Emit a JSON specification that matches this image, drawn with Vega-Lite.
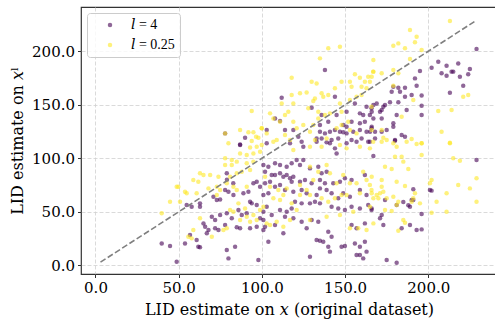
{
"$schema": "https://vega.github.io/schema/vega-lite/v6.json",
"width": 416, "height": 267,
"autosize": {"type": "none"},
"padding": {"left": 81, "top": 7, "right": 0, "bottom": 46},
"config": {
 "font": "DejaVu Serif",
 "view": {"stroke": "#333333", "strokeWidth": 1.2},
 "axis": {"domain": false, "grid": true, "gridColor": "#d0d0d0", "gridDash": [4, 2], "gridWidth": 0.8,
  "tickColor": "#333333", "tickSize": 3.5, "tickWidth": 1, "labelFont": "DejaVu Serif", "labelFontSize": 15,
  "labelColor": "#000000", "titleFont": "DejaVu Serif", "titleFontSize": 16, "titleFontWeight": "normal",
  "titleColor": "#000000", "labelPadding": 3}
},
"datasets": {
 "pts": [
{"l":"A","x":86.9,"y":112.4},{"l":"A","x":78.9,"y":86},{"l":"A","x":77.9,"y":70.4},{"l":"A","x":79.9,"y":68.8},{"l":"A","x":70.9,"y":64.1},{"l":"A","x":72.9,"y":61},{"l":"A","x":74.9,"y":61.6},{"l":"A","x":82.9,"y":65.7},{"l":"A","x":88.9,"y":67.3},{"l":"A","x":91.9,"y":68.8},{"l":"A","x":94.9,"y":76.6},{"l":"A","x":96.9,"y":78.2},{"l":"A","x":98.9,"y":73.5},{"l":"A","x":54.8,"y":56.4},{"l":"A","x":57.8,"y":54.8},{"l":"A","x":62.8,"y":57.9},{"l":"A","x":62.8,"y":54.8},{"l":"A","x":69.9,"y":45.5},{"l":"A","x":71.9,"y":42.3},{"l":"A","x":74.9,"y":47},{"l":"A","x":78.9,"y":48.6},{"l":"A","x":81.9,"y":43.9},{"l":"A","x":85.9,"y":51.7},{"l":"A","x":87.9,"y":47},{"l":"A","x":90.9,"y":48.6},{"l":"A","x":92.9,"y":59.5},{"l":"A","x":93.9,"y":57.9},{"l":"A","x":96.9,"y":56.4},{"l":"A","x":98.9,"y":43.9},{"l":"A","x":100.9,"y":42.3},{"l":"A","x":71.9,"y":34.6},{"l":"A","x":73.9,"y":33},{"l":"A","x":77.9,"y":37.7},{"l":"A","x":84.9,"y":35.5},{"l":"A","x":86.9,"y":34.6},{"l":"A","x":92.9,"y":34.6},{"l":"A","x":96.9,"y":36.1},{"l":"A","x":39.8,"y":20.5},{"l":"A","x":44.8,"y":18.1},{"l":"A","x":53.8,"y":20.5},{"l":"A","x":60.8,"y":23.6},{"l":"A","x":61.8,"y":17.4},{"l":"A","x":62.8,"y":16.8},{"l":"A","x":67.9,"y":33},{"l":"A","x":78.9,"y":14.3},{"l":"A","x":83.9,"y":17.4},{"l":"A","x":79.9,"y":6.5},{"l":"A","x":48.8,"y":3.4},{"l":"A","x":97.9,"y":4.9},{"l":"A","x":64.9,"y":39.2},{"l":"A","x":65.9,"y":36.1},{"l":"A","x":56.8,"y":28.3},{"l":"A","x":66.9,"y":29.9},{"l":"A","x":79,"y":80},{"l":"A","x":82.8,"y":76.6},
{"l":"A","x":102.9,"y":114},{"l":"A","x":116.9,"y":114},{"l":"A","x":124.9,"y":110.9},{"l":"A","x":132.9,"y":115.5},{"l":"A","x":140.9,"y":114},{"l":"A","x":143.9,"y":109.3},{"l":"A","x":144.9,"y":104.6},{"l":"A","x":150.9,"y":114},{"l":"A","x":156.9,"y":115.5},{"l":"A","x":164.9,"y":115.5},{"l":"A","x":100.9,"y":93.7},{"l":"A","x":103.9,"y":92.2},{"l":"A","x":107.9,"y":95.3},{"l":"A","x":110.9,"y":93.7},{"l":"A","x":114.9,"y":92.2},{"l":"A","x":117.9,"y":95.3},{"l":"A","x":120.9,"y":98.4},{"l":"A","x":122.9,"y":93.7},{"l":"A","x":124.9,"y":98.4},{"l":"A","x":128.9,"y":90.6},{"l":"A","x":133.9,"y":92.2},{"l":"A","x":135.9,"y":86},{"l":"A","x":138.9,"y":87.5},{"l":"A","x":101.9,"y":87.5},{"l":"A","x":105.9,"y":84.4},{"l":"A","x":107.9,"y":84.4},{"l":"A","x":110.9,"y":86},{"l":"A","x":112.9,"y":82.8},{"l":"A","x":114.9,"y":84.4},{"l":"A","x":116.9,"y":81.3},{"l":"A","x":117.9,"y":78.2},{"l":"A","x":118.9,"y":82.8},{"l":"A","x":122.9,"y":78.2},{"l":"A","x":125.9,"y":79.7},{"l":"A","x":129.9,"y":76.6},{"l":"A","x":134.9,"y":79.7},{"l":"A","x":137.9,"y":76.6},{"l":"A","x":142.9,"y":76.6},{"l":"A","x":146.9,"y":78.2},{"l":"A","x":149.9,"y":81.3},{"l":"A","x":153.9,"y":79.7},{"l":"A","x":100.9,"y":65.7},{"l":"A","x":103.9,"y":67.3},{"l":"A","x":101.9,"y":76.6},{"l":"A","x":104.9,"y":78.2},{"l":"A","x":107.9,"y":73.5},{"l":"A","x":110.9,"y":75.1},{"l":"A","x":113.9,"y":70.4},{"l":"A","x":118.9,"y":68.8},{"l":"A","x":123.9,"y":70.4},{"l":"A","x":126.9,"y":67.3},{"l":"A","x":132.9,"y":65.7},{"l":"A","x":134.9,"y":71.9},{"l":"A","x":138.9,"y":70.4},{"l":"A","x":141.9,"y":67.3},{"l":"A","x":145.9,"y":62.6},{"l":"A","x":148.9,"y":67.3},{"l":"A","x":152.9,"y":64.1},{"l":"A","x":158.9,"y":70.4},{"l":"A","x":161.9,"y":84.4},{"l":"A","x":162.9,"y":65.7},{"l":"A","x":102.9,"y":54.8},{"l":"A","x":100.9,"y":50.1},{"l":"A","x":105.9,"y":47},{"l":"A","x":110.9,"y":51.7},{"l":"A","x":114.9,"y":50.1},{"l":"A","x":117.9,"y":53.2},{"l":"A","x":119.9,"y":59.5},{"l":"A","x":123.9,"y":57.9},{"l":"A","x":128.9,"y":57.9},{"l":"A","x":131.9,"y":59.5},{"l":"A","x":134.9,"y":57.9},{"l":"A","x":141.9,"y":54.8},{"l":"A","x":145.9,"y":53.2},{"l":"A","x":149.9,"y":51.7},{"l":"A","x":153.9,"y":54.8},{"l":"A","x":158.9,"y":53.2},{"l":"A","x":163.9,"y":56.4},{"l":"A","x":165.9,"y":51.7},{"l":"A","x":100.9,"y":33},{"l":"A","x":101.9,"y":36.1},{"l":"A","x":107.9,"y":37.7},{"l":"A","x":113.9,"y":45.5},{"l":"A","x":118.9,"y":43.9},{"l":"A","x":123.9,"y":40.8},{"l":"A","x":126.9,"y":34.6},{"l":"A","x":129.9,"y":42.3},{"l":"A","x":133.9,"y":40.8},{"l":"A","x":139.9,"y":31.4},{"l":"A","x":141.9,"y":26.8},{"l":"A","x":132.9,"y":23.6},{"l":"A","x":134.9,"y":23},{"l":"A","x":136.9,"y":22.1},{"l":"A","x":139.9,"y":17.4},{"l":"A","x":147.9,"y":17.4},{"l":"A","x":149.9,"y":18.1},{"l":"A","x":155.9,"y":20.5},{"l":"A","x":158.9,"y":17.4},{"l":"A","x":161.9,"y":22.1},{"l":"A","x":162.9,"y":12.8},{"l":"A","x":158.9,"y":9.6},{"l":"A","x":156.9,"y":9.6},{"l":"A","x":160.9,"y":6.5},{"l":"A","x":128.9,"y":8.1},{"l":"A","x":112.9,"y":29.9},{"l":"A","x":103.9,"y":22.1},{"l":"A","x":140.9,"y":12.8},{"l":"A","x":153.9,"y":37.7},{"l":"A","x":156.9,"y":34.6},{"l":"A","x":161.9,"y":39.2},
{"l":"A","x":180,"y":116.5},{"l":"A","x":167,"y":102.1},{"l":"A","x":229,"y":98.4},{"l":"A","x":191,"y":71},{"l":"A","x":190,"y":61},{"l":"A","x":191,"y":61},{"l":"A","x":174,"y":61},{"l":"A","x":185,"y":59.2},{"l":"A","x":188,"y":56.1},{"l":"A","x":189,"y":54.8},{"l":"A","x":166,"y":53.2},{"l":"A","x":172,"y":47},{"l":"A","x":171,"y":43.9},{"l":"A","x":173,"y":37.7},{"l":"A","x":184,"y":34.6},{"l":"A","x":189,"y":37.7},{"l":"A","x":193,"y":33},{"l":"A","x":196,"y":33.6},{"l":"A","x":196,"y":48},{"l":"A","x":201,"y":70.4},{"l":"A","x":202,"y":69.8},{"l":"A","x":175,"y":5},{"l":"A","x":181,"y":2.5},{"l":"A","x":181,"y":56.4},
{"l":"A","x":77.9,"y":123.3},{"l":"A","x":89.9,"y":119.3},{"l":"A","x":86.9,"y":113},
{"l":"A","x":137.9,"y":182.5},{"l":"A","x":111.9,"y":156.6},{"l":"A","x":143.9,"y":157.6},{"l":"A","x":129.9,"y":147.3},{"l":"A","x":135.9,"y":140.5},{"l":"A","x":107.9,"y":137.3},{"l":"A","x":110.9,"y":134.8},{"l":"A","x":102.9,"y":126.4},{"l":"A","x":113.9,"y":126.4},{"l":"A","x":118.9,"y":126.4},{"l":"A","x":134.9,"y":131.1},{"l":"A","x":139.9,"y":134.2},{"l":"A","x":144.9,"y":140.5},{"l":"A","x":150.9,"y":143.6},{"l":"A","x":155.9,"y":151.3},{"l":"A","x":158.9,"y":142},{"l":"A","x":160.9,"y":140.5},{"l":"A","x":162.9,"y":148.2},{"l":"A","x":165.9,"y":146.7},{"l":"A","x":164.9,"y":140.5},{"l":"A","x":158.9,"y":132.7},{"l":"A","x":161.9,"y":134.2},{"l":"A","x":153.9,"y":134.2},{"l":"A","x":150.9,"y":129.6},{"l":"A","x":146.9,"y":124.9},{"l":"A","x":148.9,"y":124.3},{"l":"A","x":150.9,"y":123.3},{"l":"A","x":154.9,"y":124.9},{"l":"A","x":158.9,"y":126.4},{"l":"A","x":162.9,"y":124.9},{"l":"A","x":165.9,"y":128},{"l":"A","x":134.9,"y":124.9},{"l":"A","x":137.9,"y":123.3},{"l":"A","x":140.9,"y":124.9},{"l":"A","x":143.9,"y":126.4},{"l":"A","x":132.9,"y":118.6},{"l":"A","x":135.9,"y":118.6},{"l":"A","x":138.9,"y":114.9},{"l":"A","x":141.9,"y":117.1},{"l":"A","x":145.9,"y":118.6},{"l":"A","x":153.9,"y":117.1},{"l":"A","x":159.9,"y":118.6},{"l":"A","x":163.9,"y":115.5},{"l":"A","x":121.9,"y":120.2},{"l":"A","x":123.9,"y":115.5},{"l":"A","x":148.9,"y":131.1},
{"l":"A","x":229,"y":202.1},{"l":"A","x":195,"y":181.6},{"l":"A","x":202,"y":184.7},{"l":"A","x":206,"y":190.3},{"l":"A","x":211,"y":186.6},{"l":"A","x":214,"y":181},{"l":"A","x":215,"y":181},{"l":"A","x":218,"y":188.7},{"l":"A","x":211,"y":177.2},{"l":"A","x":208,"y":179.4},{"l":"A","x":219,"y":176.3},{"l":"A","x":224,"y":178.5},{"l":"A","x":225,"y":183.4},{"l":"A","x":221,"y":167.9},{"l":"A","x":213,"y":161.3},{"l":"A","x":193,"y":167.9},{"l":"A","x":192,"y":174.7},{"l":"A","x":186,"y":166},{"l":"A","x":182,"y":166},{"l":"A","x":179,"y":166.9},{"l":"A","x":186,"y":157.6},{"l":"A","x":183,"y":162.3},{"l":"A","x":178,"y":162.3},{"l":"A","x":190,"y":159.1},{"l":"A","x":196,"y":158.6},{"l":"A","x":177,"y":152.3},{"l":"A","x":182,"y":152.3},{"l":"A","x":174,"y":149.8},{"l":"A","x":173,"y":148.2},{"l":"A","x":172,"y":145.1},{"l":"A","x":169,"y":151.3},{"l":"A","x":167,"y":149.8},{"l":"A","x":166,"y":143.6},{"l":"A","x":167,"y":137.3},{"l":"A","x":171,"y":143.6},{"l":"A","x":181,"y":140.5},{"l":"A","x":187,"y":145.1},{"l":"A","x":196,"y":149.2},{"l":"A","x":196,"y":140.5},{"l":"A","x":172,"y":137.3},{"l":"A","x":179,"y":132.7},{"l":"A","x":179,"y":129.6},{"l":"A","x":166,"y":129.6},{"l":"A","x":168,"y":124.9},{"l":"A","x":172,"y":124.9},{"l":"A","x":175,"y":126.4},{"l":"A","x":165,"y":124.9},{"l":"A","x":184,"y":121.8},{"l":"A","x":186,"y":120.2},{"l":"A","x":180,"y":117.1},{"l":"A","x":168,"y":118.6},
{"l":"B","x":79.9,"y":114},{"l":"B","x":92.9,"y":110.2},{"l":"B","x":96.9,"y":110.9},{"l":"B","x":99.9,"y":112.4},{"l":"B","x":86.9,"y":104.6},{"l":"B","x":90.9,"y":103.1},{"l":"B","x":94.9,"y":104.6},{"l":"B","x":98.9,"y":106.2},{"l":"B","x":77.9,"y":100},{"l":"B","x":81.9,"y":98.4},{"l":"B","x":84.9,"y":96.9},{"l":"B","x":90.9,"y":95.3},{"l":"B","x":94.9,"y":96.9},{"l":"B","x":81.9,"y":93.7},{"l":"B","x":77.9,"y":93.7},{"l":"B","x":62.8,"y":86},{"l":"B","x":64.9,"y":84.4},{"l":"B","x":68.9,"y":84.4},{"l":"B","x":73.9,"y":82.8},{"l":"B","x":58.8,"y":79.7},{"l":"B","x":61.8,"y":78.2},{"l":"B","x":80.9,"y":82.8},{"l":"B","x":84.9,"y":86},{"l":"B","x":87.9,"y":87.5},{"l":"B","x":92.9,"y":89.1},{"l":"B","x":49.8,"y":73.5},{"l":"B","x":54.8,"y":67.3},{"l":"B","x":60.8,"y":67.3},{"l":"B","x":67.9,"y":71.9},{"l":"B","x":72.9,"y":73.5},{"l":"B","x":78.9,"y":76.6},{"l":"B","x":82.9,"y":73.5},{"l":"B","x":84.9,"y":70.4},{"l":"B","x":90.9,"y":73.5},{"l":"B","x":44.8,"y":59.5},{"l":"B","x":39.8,"y":48.6},{"l":"B","x":62.8,"y":43.9},{"l":"B","x":58.8,"y":33},{"l":"B","x":55.8,"y":26.8},{"l":"B","x":57.8,"y":25.2},{"l":"B","x":69.9,"y":26.8},{"l":"B","x":76.9,"y":33},{"l":"B","x":78.9,"y":34.6},{"l":"B","x":80.9,"y":51.7},{"l":"B","x":82.9,"y":50.1},{"l":"B","x":85.9,"y":57.9},{"l":"B","x":89.9,"y":53.2},{"l":"B","x":90.9,"y":45.5},{"l":"B","x":92.9,"y":40.8},{"l":"B","x":94.9,"y":47},{"l":"B","x":96.9,"y":42.3},{"l":"B","x":98.9,"y":51.7},{"l":"B","x":100.9,"y":54.8},{"l":"B","x":86.9,"y":42.3},{"l":"B","x":74.9,"y":70.4},{"l":"B","x":72.9,"y":65.7},{"l":"B","x":50.8,"y":59.4},{"l":"B","x":53.8,"y":68.8},{"l":"B","x":48.8,"y":73.5},
{"l":"B","x":106.9,"y":115.5},{"l":"B","x":118.9,"y":107.8},{"l":"B","x":128.9,"y":110.9},{"l":"B","x":135.9,"y":110.9},{"l":"B","x":146.9,"y":112.4},{"l":"B","x":150.9,"y":109.3},{"l":"B","x":158.9,"y":110.9},{"l":"B","x":164.9,"y":109.3},{"l":"B","x":166.9,"y":115.5},{"l":"B","x":101.9,"y":82.8},{"l":"B","x":104.9,"y":73.5},{"l":"B","x":109.9,"y":70.4},{"l":"B","x":112.9,"y":65.7},{"l":"B","x":106.9,"y":62.6},{"l":"B","x":110.9,"y":61},{"l":"B","x":117.9,"y":57.9},{"l":"B","x":114.9,"y":71.9},{"l":"B","x":122.9,"y":75.1},{"l":"B","x":128.9,"y":92.2},{"l":"B","x":130.9,"y":79.7},{"l":"B","x":133.9,"y":87.5},{"l":"B","x":138.9,"y":93.7},{"l":"B","x":140.9,"y":86},{"l":"B","x":144.9,"y":76.6},{"l":"B","x":148.9,"y":84.4},{"l":"B","x":152.9,"y":76.6},{"l":"B","x":156.9,"y":76.6},{"l":"B","x":158.9,"y":67.3},{"l":"B","x":160.9,"y":87.5},{"l":"B","x":162.9,"y":79.7},{"l":"B","x":164.9,"y":75.1},{"l":"B","x":165.9,"y":70.4},{"l":"B","x":147.9,"y":65.7},{"l":"B","x":150.9,"y":65.7},{"l":"B","x":143.9,"y":62.6},{"l":"B","x":139.9,"y":59.5},{"l":"B","x":135.9,"y":62.6},{"l":"B","x":128.9,"y":65.7},{"l":"B","x":122.9,"y":65.7},{"l":"B","x":126.9,"y":70.4},{"l":"B","x":120.9,"y":51.7},{"l":"B","x":116.9,"y":42.3},{"l":"B","x":108.9,"y":40.8},{"l":"B","x":102.9,"y":39.2},{"l":"B","x":104.9,"y":37.7},{"l":"B","x":112.9,"y":36.1},{"l":"B","x":128.9,"y":42.3},{"l":"B","x":138.9,"y":45.5},{"l":"B","x":146.9,"y":47},{"l":"B","x":152.9,"y":34.6},{"l":"B","x":157.9,"y":34.6},{"l":"B","x":162.9,"y":33},{"l":"B","x":164.9,"y":54.8},{"l":"B","x":154.9,"y":50.1},
{"l":"B","x":172,"y":115.5},{"l":"B","x":181,"y":110.9},{"l":"B","x":187,"y":115.5},{"l":"B","x":193,"y":113.4},{"l":"B","x":196,"y":114},{"l":"B","x":213,"y":114},{"l":"B","x":196,"y":103.1},{"l":"B","x":180,"y":101.5},{"l":"B","x":184,"y":101.5},{"l":"B","x":185,"y":96.9},{"l":"B","x":215,"y":100},{"l":"B","x":219,"y":97.8},{"l":"B","x":174,"y":92.2},{"l":"B","x":178,"y":90},{"l":"B","x":188,"y":90},{"l":"B","x":166,"y":82.8},{"l":"B","x":172,"y":79.7},{"l":"B","x":181,"y":78.2},{"l":"B","x":186,"y":74.1},{"l":"B","x":172,"y":73.5},{"l":"B","x":202,"y":79.7},{"l":"B","x":201,"y":76.6},{"l":"B","x":218,"y":75.1},{"l":"B","x":225,"y":71.9},{"l":"B","x":229,"y":81.3},{"l":"B","x":166,"y":67.3},{"l":"B","x":169,"y":65.7},{"l":"B","x":171,"y":67.3},{"l":"B","x":173,"y":68.8},{"l":"B","x":175,"y":62.6},{"l":"B","x":179,"y":64.1},{"l":"B","x":182,"y":59.5},{"l":"B","x":167,"y":62.6},{"l":"B","x":170,"y":62.6},{"l":"B","x":192,"y":67.3},{"l":"B","x":191,"y":62.6},{"l":"B","x":190,"y":59.5},{"l":"B","x":195,"y":57.9},{"l":"B","x":205,"y":59.5},{"l":"B","x":211,"y":67.3},{"l":"B","x":229,"y":59.5},{"l":"B","x":174,"y":51.7},{"l":"B","x":178,"y":50.8},{"l":"B","x":185,"y":42.3},{"l":"B","x":186,"y":39.8},{"l":"B","x":182,"y":32.4},{"l":"B","x":167,"y":39.2},{"l":"B","x":202,"y":49.2},{"l":"B","x":211,"y":50.1},{"l":"B","x":181,"y":56.4},
{"l":"B","x":93.9,"y":144.2},{"l":"B","x":86.9,"y":126.4},{"l":"B","x":91.9,"y":124.3},{"l":"B","x":94.9,"y":124.3},{"l":"B","x":96.5,"y":120.2},{"l":"B","x":97.9,"y":119.3},{"l":"B","x":93.9,"y":116.2},{"l":"B","x":99.9,"y":128},{"l":"B","x":77.9,"y":123.3},
{"l":"B","x":139.9,"y":202.8},{"l":"B","x":146.9,"y":204.3},{"l":"B","x":134.9,"y":193.4},{"l":"B","x":117.9,"y":175.3},{"l":"B","x":129.9,"y":171.6},{"l":"B","x":132.9,"y":170},{"l":"B","x":147.9,"y":171.6},{"l":"B","x":152.9,"y":171.6},{"l":"B","x":155.9,"y":178.5},{"l":"B","x":158.9,"y":175.3},{"l":"B","x":163.9,"y":176.3},{"l":"B","x":166.9,"y":181},{"l":"B","x":161.9,"y":171.6},{"l":"B","x":164.9,"y":171.6},{"l":"B","x":153.9,"y":166.9},{"l":"B","x":159.9,"y":166.9},{"l":"B","x":162.9,"y":165.4},{"l":"B","x":143.9,"y":165.4},{"l":"B","x":117.9,"y":159.1},{"l":"B","x":122.9,"y":160.7},{"l":"B","x":126.9,"y":161.6},{"l":"B","x":135.9,"y":160.7},{"l":"B","x":136.9,"y":157.6},{"l":"B","x":139.9,"y":159.1},{"l":"B","x":131.9,"y":156},{"l":"B","x":130.9,"y":153.5},{"l":"B","x":111.9,"y":151.3},{"l":"B","x":118.9,"y":151.3},{"l":"B","x":127.9,"y":146.7},{"l":"B","x":133.9,"y":143.6},{"l":"B","x":137.9,"y":140.5},{"l":"B","x":140.9,"y":142},{"l":"B","x":146.9,"y":151.3},{"l":"B","x":152.9,"y":154.5},{"l":"B","x":156.9,"y":157.6},{"l":"B","x":159.9,"y":159.1},{"l":"B","x":104.9,"y":142},{"l":"B","x":113.9,"y":140.5},{"l":"B","x":115.9,"y":143.6},{"l":"B","x":110.9,"y":134.2},{"l":"B","x":106.9,"y":137.3},{"l":"B","x":99.9,"y":128},{"l":"B","x":102.9,"y":123.3},{"l":"B","x":118.9,"y":134.2},{"l":"B","x":120.9,"y":128},{"l":"B","x":124.9,"y":131.1},{"l":"B","x":130.9,"y":131.1},{"l":"B","x":128.9,"y":124.9},{"l":"B","x":133.9,"y":137.3},{"l":"B","x":147.9,"y":143.6},{"l":"B","x":151.9,"y":134.2},{"l":"B","x":152.9,"y":126.4},{"l":"B","x":156.9,"y":123.3},{"l":"B","x":113.9,"y":121.8},{"l":"B","x":116.9,"y":117.1},{"l":"B","x":108.9,"y":117.1},{"l":"B","x":131.9,"y":117.1},{"l":"B","x":144.9,"y":128},{"l":"B","x":138.9,"y":118.6},{"l":"B","x":165.9,"y":148.2},{"l":"B","x":147.9,"y":131.1},
{"l":"B","x":213,"y":228.3},{"l":"B","x":189,"y":219.9},{"l":"B","x":193,"y":213.7},{"l":"B","x":192,"y":208.4},{"l":"B","x":179,"y":205.2},{"l":"B","x":182,"y":207.4},{"l":"B","x":186,"y":202.8},{"l":"B","x":196,"y":201.2},{"l":"B","x":167,"y":191.8},{"l":"B","x":189,"y":192.8},{"l":"B","x":167,"y":181},{"l":"B","x":166,"y":176.3},{"l":"B","x":172,"y":179.4},{"l":"B","x":179,"y":182.5},{"l":"B","x":182,"y":179.4},{"l":"B","x":179,"y":167.9},{"l":"B","x":191,"y":154.5},{"l":"B","x":221,"y":157.6},{"l":"B","x":224,"y":159.1},{"l":"B","x":206,"y":144.2},{"l":"B","x":214,"y":145.1},{"l":"B","x":184,"y":138.9},{"l":"B","x":166,"y":126.4},{"l":"B","x":172,"y":126.4},{"l":"B","x":173,"y":119.3},{"l":"B","x":175,"y":117.1},{"l":"B","x":208,"y":124.9},{"l":"B","x":190,"y":118},{"l":"B","x":196,"y":114},{"l":"B","x":213,"y":114.6},{"l":"B","x":179,"y":114}
 ],
 "diag": [{"x": 3, "y": 3}, {"x": 229, "y": 229}]
},
"layer": [
 {
  "data": {"name": "pts"},
  "mark": {"type": "circle", "size": 20, "opacity": 0.6, "strokeWidth": 0},
  "encoding": {
   "x": {"field": "x", "type": "quantitative",
    "scale": {"domain": [-8.71, 241.3], "nice": false, "zero": false},
    "axis": {"values": [0, 50, 100, 150, 200], "format": ".1f", "title": "LID estimate on 𝑥 (original dataset)", "titlePadding": 6}},
   "y": {"field": "y", "type": "quantitative",
    "scale": {"domain": [-8.1, 241.4], "nice": false, "zero": false},
    "axis": {"values": [0, 50, 100, 150, 200], "format": ".1f", "title": "LID estimate on 𝑥ˡ", "titlePadding": 6}},
   "color": {"field": "l", "type": "nominal",
    "scale": {"domain": ["A", "B"], "range": ["#440154", "#fde725"]},
    "legend": {"orient": "top-left", "offset": 6, "title": null, "padding": 5, "symbolOffset": 11,
     "labelOffset": 14, "rowPadding": 6, "symbolSize": 20, "symbolType": "circle", "symbolOpacity": 0.6,
     "symbolStrokeWidth": 0, "labelFontSize": 14, "labelFont": "Liberation Serif, DejaVu Serif", "labelColor": "#000000",
     "fillColor": "rgba(255,255,255,0.8)", "strokeColor": "#cccccc", "cornerRadius": 3,
     "labelExpr": "datum.label == 'A' ? '𝑙 = 4' : '𝑙 = 0.25'"}}
  }
 },
 {
  "data": {"name": "diag"},
  "mark": {"type": "line", "color": "#808080", "strokeWidth": 1.6, "strokeDash": [6, 2.6]},
  "encoding": {
   "x": {"field": "x", "type": "quantitative"},
   "y": {"field": "y", "type": "quantitative"}
  }
 }
]
}
